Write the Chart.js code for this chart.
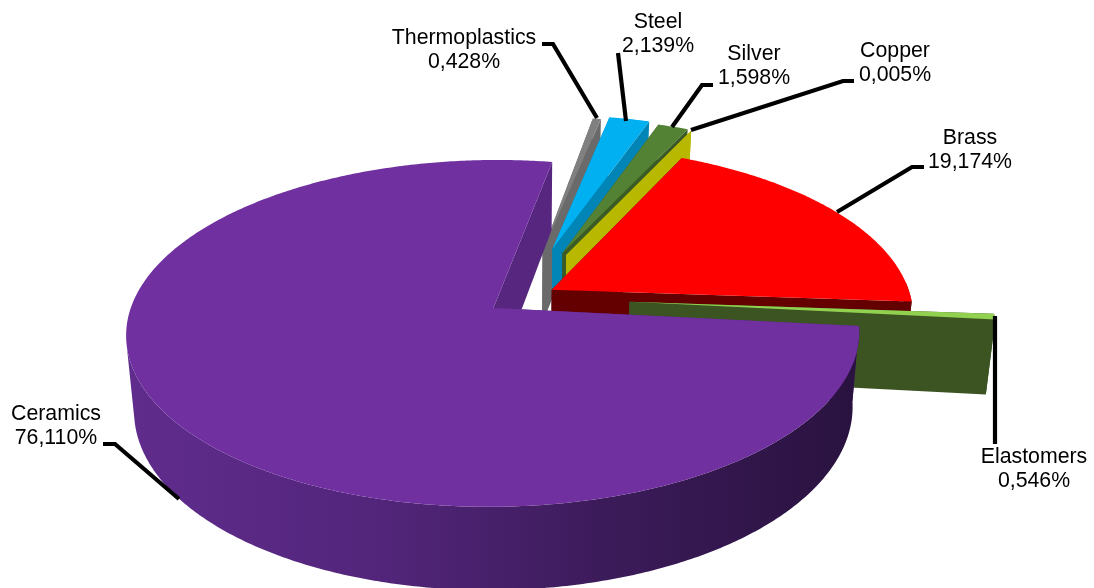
<!DOCTYPE html>
<html>
<head>
<meta charset="utf-8">
<title>Materials share</title>
<script src="https://cdn.jsdelivr.net/npm/chart.js@4"></script>
<style>
  html, body { margin: 0; padding: 0; background: #fff; overflow: hidden; }
  canvas { display: block; }
</style>
</head>
<body>
<canvas id="pie" width="1094" height="588"></canvas>
<script>
// Sample data
const materials = ["Ceramics", "Thermoplastics", "Steel", "Silver", "Copper", "Brass", "Elastomers"];
const shares = [76.110, 0.428, 2.139, 1.598, 0.005, 19.174, 0.546];

// Slice styling, same order as materials
const topColors = ["#7030a0", "#808080", "#00b0f0", "#548235", "#d2d200", "#ff0000", "#92d050"];
const sideColors = ["#57267f", "#6a6a6a", "#0085b6", "#3b5a24", "#b8b800", "#640000", "#3c5322"];
const explode = [26.5, 74.6, 80, 76, 74, 23.2, 74.8];

// Label placement: line centres, then leader line points
const labelPos = [[56, 414], [464, 38], [658, 22], [754, 54], [895, 51], [970, 138], [1034, 457]];
const leaders = [
    [[103, 444], [115, 444], [179, 499]],
    [[542, 44], [553, 44], [597, 118]],
    [[618, 53], [626, 121]],
    [[713, 85], [702, 85], [672, 127]],
    [[854, 81], [843, 81], [691, 130]],
    [[924, 167], [912, 167], [837, 212]],
    [[995, 316], [995, 444]]
];

// Fake 3D camera for the pie
const cam = { cx: 523.6, cy: 297.4, rx: 359.3, ry: 166.6, depth: 74, persp: 0.1454, shrink: 0.02 };

function project(u, v, z) {
    const k = 1 / (1 - v * cam.persp);
    const s = 1 - cam.shrink * z;
    return [cam.cx + u * cam.rx * k * s, cam.cy + (v * cam.ry * s + cam.depth * z) * k];
}

function fillPoly(ctx, pts, color) {
    ctx.beginPath();
    pts.forEach((p, i) => i ? ctx.lineTo(p[0], p[1]) : ctx.moveTo(p[0], p[1]));
    ctx.closePath();
    ctx.fillStyle = color;
    ctx.fill();
}

function drawSlice(ctx, el, i) {
    const { startAngle, endAngle, outerRadius } = el.getProps(['startAngle', 'endAngle', 'outerRadius'], true);
    const mid = (startAngle + endAngle) / 2;
    const shift = el.options.offset / outerRadius;
    const u0 = shift * Math.cos(mid);
    const v0 = shift * Math.sin(mid);
    const edge = (a, z) => project(u0 + Math.cos(a), v0 + Math.sin(a), z);
    const apex = z => project(u0, v0, z);

    const steps = Math.max(2, Math.ceil((endAngle - startAngle) / 0.01));
    const rim = [];
    for (let s = 0; s <= steps; s++) rim.push(startAngle + (endAngle - startAngle) * s / steps);

    let wall = sideColors[i];
    if (i === 0) {
        // the big slice gets darker towards the right
        wall = ctx.createLinearGradient(126, 0, 860, 0);
        wall.addColorStop(0, "#602c8d");
        wall.addColorStop(0.35, "#52257a");
        wall.addColorStop(0.65, "#3c1b5a");
        wall.addColorStop(1, "#29123f");
    }

    fillPoly(ctx, [apex(0), edge(startAngle, 0), edge(startAngle, 1), apex(1)], sideColors[i]);
    fillPoly(ctx, [apex(0), edge(endAngle, 0), edge(endAngle, 1), apex(1)], sideColors[i]);
    // only the part of the outer wall that faces the viewer, cut at the left tangent
    const front = rim.filter(a => Math.sin(a) > 0.2 || (Math.cos(a) > 0 && Math.sin(a) > -0.05));
    if (front.length > 1) {
        fillPoly(ctx, front.map(a => edge(a, 0)).concat(front.slice().reverse().map(a => edge(a, 1))), wall);
    }
    fillPoly(ctx, [apex(0)].concat(rim.map(a => edge(a, 0))), el.options.backgroundColor);
}

const pie3d = {
    id: 'pie3d',
    beforeDatasetsDraw(chart) {
        const arcs = chart.getDatasetMeta(0).data;
        const ctx = chart.ctx;
        ctx.save();
        // back slices first, the big one goes on top
        for (let i = 1; i < arcs.length; i++) drawSlice(ctx, arcs[i], i);
        drawSlice(ctx, arcs[0], 0);
        ctx.restore();
        return false;
    },
    afterDraw(chart) {
        const ctx = chart.ctx;
        ctx.save();
        ctx.strokeStyle = "#000";
        ctx.lineWidth = 4.2;
        ctx.lineJoin = "miter";
        leaders.forEach(line => {
            ctx.beginPath();
            line.forEach((p, i) => i ? ctx.lineTo(p[0], p[1]) : ctx.moveTo(p[0], p[1]));
            ctx.stroke();
        });
        ctx.fillStyle = "#000";
        ctx.font = "21.3px 'Liberation Sans', Arial, sans-serif";
        ctx.textAlign = "center";
        ctx.textBaseline = "middle";
        materials.forEach((name, i) => {
            const [x, y] = labelPos[i];
            ctx.fillText(name, x, y);
            ctx.fillText(shares[i].toFixed(3).replace('.', ',') + "%", x, y + 24);
        });
        ctx.restore();
    }
};

new Chart(document.getElementById('pie').getContext('2d'), {
    type: 'pie',
    data: {
        labels: materials,
        datasets: [{
            data: shares,
            backgroundColor: topColors,
            offset: explode,
            borderWidth: 0,
            hoverOffset: 0
        }]
    },
    options: {
        responsive: false,
        animation: false,
        rotation: 96,
        events: [],
        plugins: {
            legend: { display: false },
            tooltip: { enabled: false }
        }
    },
    plugins: [pie3d]
});
</script>
</body>
</html>
